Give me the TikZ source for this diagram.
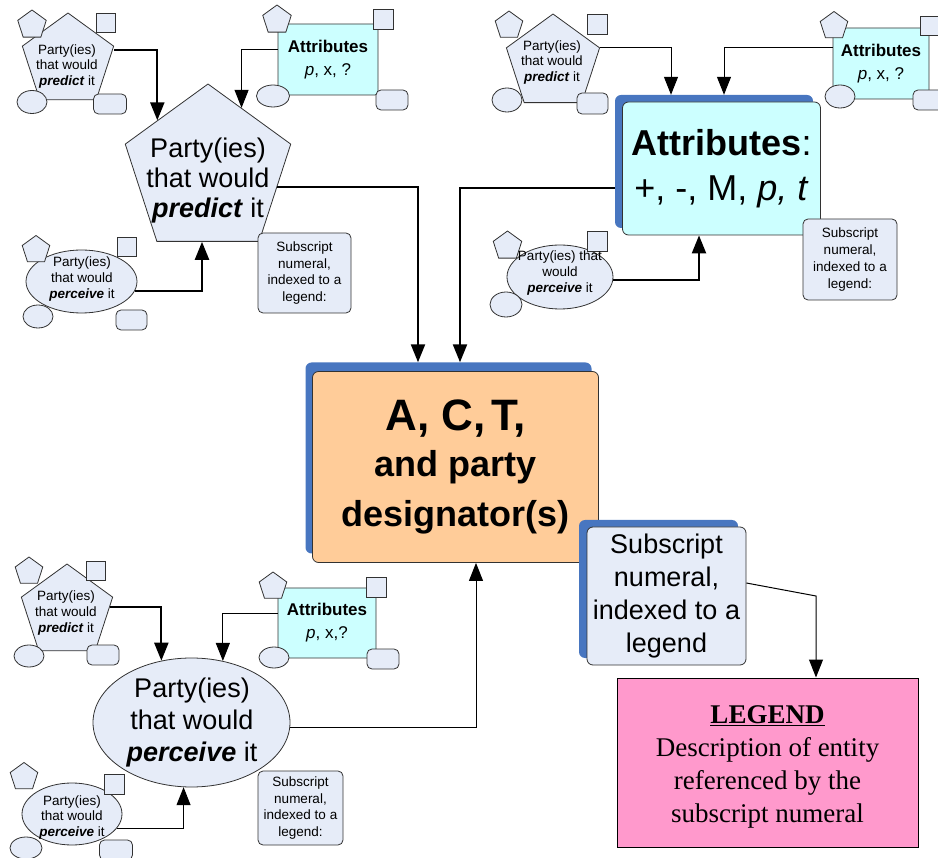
\documentclass[tikz,border=0pt]{standalone}
\usepackage{fontspec}
\setmainfont{Liberation Sans}
\newfontfamily\legendfont{Liberation Serif}
\usetikzlibrary{shapes.geometric,arrows.meta,calc}
\definecolor{lightC}{RGB}{230,236,248}
\definecolor{cyanC}{RGB}{204,255,255}
\definecolor{peachC}{RGB}{255,204,153}
\definecolor{pinkC}{RGB}{255,153,204}
\definecolor{shadowC}{RGB}{72,118,192}
\definecolor{lineC}{RGB}{50,50,50}
\begin{document}
\begin{tikzpicture}[x=1pt,y=-1pt,
  sShp/.style={draw=lineC, line width=0.8pt, fill=lightC, inner sep=0pt},
  sPent/.style={sShp, regular polygon, regular polygon sides=5},
  sEll/.style={sShp, ellipse},
  sRR/.style={sShp, rectangle, rounded corners=5pt},
  sSq/.style={sShp, rectangle},
  sAttr/.style={sShp, rectangle, fill=cyanC, rounded corners=3pt, align=center, font=\fontsize{17}{23}\selectfont},
  sSub/.style={sShp, rectangle, rounded corners=5pt, align=center, font=\fontsize{13.5}{16.7}\selectfont},
  sTiny/.style={inner sep=0pt, align=center, font=\fontsize{13.5}{15.7}\selectfont},
  sBig/.style={inner sep=0pt, align=center, font=\fontsize{27}{30}\selectfont},
  sShadow/.style={fill=shadowC, rounded corners=6pt, inner sep=0pt, rectangle},
  cArr/.style={-{Triangle[length=18pt,width=14pt]}},
  cThin/.style={cArr, line width=1pt, draw=black},
  cThick/.style={cArr, line width=2.2pt, draw=black},
]
\useasboundingbox (0,0) rectangle (938,858);

% ---------- Cluster A (top left) ----------
\node[sPent, minimum size=96pt] (A1) at (68,61) {};
\node[sPent, minimum size=30pt] (A1a) at (32,25) {};
\node[sSq, minimum size=19pt] (A1b) at (106,23) {};
\node[sEll, minimum width=30pt, minimum height=23pt] (A1c) at (32,102) {};
\node[sRR, minimum width=33pt, minimum height=20pt] (A1d) at (110,104) {};
\node[sTiny] (A1t) at (67,66.5) {Party(ies)\\that would\\\textbf{\textit{predict}} it};

\node[sAttr, minimum width=100pt, minimum height=71pt] (A2) at (328,59.5) {\textbf{Attributes}\\\textit{p}, x, ?};
\node[sPent, minimum size=30pt] (A2a) at (277,20) {};
\node[sSq, minimum size=20pt] (A2b) at (383,19) {};
\node[sEll, minimum width=33pt, minimum height=22pt] (A2c) at (273,96) {};
\node[sRR, minimum width=32pt, minimum height=20pt] (A2d) at (392,100) {};

\node[sPent, minimum size=174pt] (A3) at (208,171) {};
\node[sBig] (A3t) at (208,181) {Party(ies)\\that would\\\textbf{\textit{predict}} it};

\node[sEll, minimum width=111pt, minimum height=63pt] (A4) at (81.5,281.5) {};
\node[sPent, minimum size=29pt] (A4a) at (36,250) {};
\node[sSq, minimum size=19pt] (A4b) at (127,247) {};
\node[sEll, minimum width=30pt, minimum height=23pt] (A4c) at (38,316.5) {};
\node[sRR, minimum width=31pt, minimum height=20pt] (A4d) at (131.5,320) {};
\node[sTiny] (A4t) at (82,279) {Party(ies)\\that would\\\textbf{\textit{perceive}} it};

\node[sSub, minimum width=93pt, minimum height=80pt] (A5) at (304.5,273) {Subscript\\numeral,\\indexed to a\\legend:};

% ---------- Cluster B (top right) ----------
\node[sPent, minimum size=98pt] (B1) at (553,63) {};
\node[sPent, minimum size=29pt] (B1a) at (509,25.5) {};
\node[sSq, minimum size=20pt] (B1b) at (597.5,24) {};
\node[sEll, minimum width=30pt, minimum height=24pt] (B1c) at (507,100) {};
\node[sRR, minimum width=31pt, minimum height=21pt] (B1d) at (592.5,103.5) {};
\node[sTiny] (B1t) at (552,62.5) {Party(ies)\\that would\\\textbf{\textit{predict}} it};

\node[sAttr, minimum width=96pt, minimum height=71pt] (B2) at (881,63.5) {\textbf{Attributes}\\\textit{p}, x, ?};
\node[sPent, minimum size=29pt] (B2a) at (834,26) {};
\node[sSq, minimum size=19pt] (B2b) at (930,26) {};
\node[sEll, minimum width=30pt, minimum height=23pt] (B2c) at (840,96.5) {};
\node[sRR, minimum width=32pt, minimum height=20pt] (B2d) at (929,100) {};

\node[sShadow, minimum width=198pt, minimum height=133pt] (Bs) at (714,161.5) {};
\node[sShp, rectangle, rounded corners=6pt, fill=cyanC, minimum width=198pt, minimum height=133pt,
      align=center, font=\fontsize{36}{45}\selectfont] (B3) at (721.5,168.5)
      {\textbf{Attributes}:\\+, -, M, \textit{p, t}};

\node[sEll, minimum width=106pt, minimum height=64pt] (B4) at (560,277) {};
\node[sPent, minimum size=30pt] (B4a) at (507.5,246) {};
\node[sSq, minimum size=20pt] (B4b) at (597.5,241.5) {};
\node[sEll, minimum width=32pt, minimum height=25pt] (B4c) at (506,304.5) {};
\node[sTiny] (B4t) at (560,273) {Party(ies) that\\would\\\textbf{\textit{perceive}} it};

\node[sSub, minimum width=94pt, minimum height=81pt] (B5) at (850,259.5) {Subscript\\numeral,\\indexed to a\\legend:};

% ---------- Centre ----------
\node[sShadow, minimum width=286pt, minimum height=191pt] (Cs) at (448.5,458) {};
\node[sShp, rectangle, rounded corners=6pt, fill=peachC, minimum width=286pt, minimum height=191pt,
      align=center, font=\bfseries\fontsize{36}{46}\selectfont] (C) at (455.5,467)
      {{\fontsize{44}{46}\selectfont A, C,\kern6pt T,}\\and party\\[4pt]designator(s)};

\node[sShadow, minimum width=159pt, minimum height=138pt] (Es) at (658.5,589) {};
\node[sShp, rectangle, rounded corners=6pt, minimum width=159pt, minimum height=138pt,
      align=center, font=\fontsize{27}{33.3}\selectfont] (E) at (666.5,596)
      {Subscript\\numeral,\\indexed to a\\legend};

\node[draw=black, line width=1pt, fill=pinkC, rectangle, inner sep=0pt, minimum width=301pt, minimum height=169pt] (F) at (767.5,762.5) {};
\node[inner sep=0pt, align=center, font=\legendfont\fontsize{27}{33}\selectfont] (Ft) at (767.5,767)
      {\textbf{\underline{LEGEND}}\\Description of entity\\referenced by the\\subscript numeral};

% ---------- Cluster D (bottom left) ----------
\node[sPent, minimum size=96pt] (D1) at (67,612) {};
\node[sPent, minimum size=29pt] (D1a) at (29,571.5) {};
\node[sSq, minimum size=19pt] (D1b) at (95.5,571) {};
\node[sEll, minimum width=30pt, minimum height=22pt] (D1c) at (29,656) {};
\node[sRR, minimum width=32pt, minimum height=20pt] (D1d) at (103,655) {};
\node[sTiny] (D1t) at (66,613) {Party(ies)\\that would\\\textbf{\textit{predict}} it};

\node[sAttr, minimum width=98pt, minimum height=70pt] (D2) at (327,623) {\textbf{Attributes}\\\textit{p}, x,?};
\node[sPent, minimum size=29pt] (D2a) at (273,586.5) {};
\node[sSq, minimum size=20pt] (D2b) at (376.5,587.5) {};
\node[sEll, minimum width=30pt, minimum height=21pt] (D2c) at (274,657.5) {};
\node[sRR, minimum width=32pt, minimum height=20pt] (D2d) at (383,659) {};

\node[sEll, minimum width=197pt, minimum height=129pt] (D3) at (191.5,722.5) {};
\node[sBig, font=\fontsize{27}{32}\selectfont] (D3t) at (192,723) {Party(ies)\\that would\\\textbf{\textit{perceive}} it};

\node[sEll, minimum width=100pt, minimum height=62pt] (D4) at (72,814) {};
\node[sPent, minimum size=29pt] (D4a) at (24,777) {};
\node[sSq, minimum size=20pt] (D4b) at (114,784) {};
\node[sEll, minimum width=32pt, minimum height=22pt] (D4c) at (26,848) {};
\node[sRR, minimum width=33pt, minimum height=20pt] (D4d) at (116,850) {};
\node[sTiny] (D4t) at (72,817.5) {Party(ies)\\that would\\\textbf{\textit{perceive}} it};

\node[sSub, minimum width=85pt, minimum height=74pt] (D5) at (300.5,808) {Subscript\\numeral,\\indexed to a\\legend:};

% ---------- Connectors ----------
\draw[cThick] ([yshift=-4pt]A1.corner 5) -| (A3.135);
\draw[cThin]  ([yshift=10pt]A2.west) -| (A3.62);
\draw[cThick] (A4.-10) -| ([xshift=-6pt]A3.south);
\draw[cThick] (A3.-13) -| ([xshift=-30.5pt]Cs.north);

\draw[cThin]  (B1.corner 5) -| ([xshift=-43pt]Bs.north);
\draw[cThin]  ([yshift=15.5pt]B2.west) -| ([xshift=10pt]Bs.north);
\draw[cThick] (B4.-3) -| ([xshift=-22.5pt]B3.south);
\draw[cThick] ([yshift=-26.5pt]Bs.west) -| ([xshift=11.5pt]Cs.north);

\draw[cThick] (D1.7) -| (D3.116);
\draw[cThin]  ([yshift=10pt]D2.west) -| (D3.63);
\draw[cThin]  (D4.-18) -| (D3.263);
\draw[cThin]  (D3.-3) -| ([xshift=20.5pt]C.south);

\coordinate (Fin) at ([xshift=48.5pt]F.north);
\draw[cThin] ([yshift=13pt]E.east) -- (E.east -| Fin) -- (Fin);
\end{tikzpicture}
\end{document}
